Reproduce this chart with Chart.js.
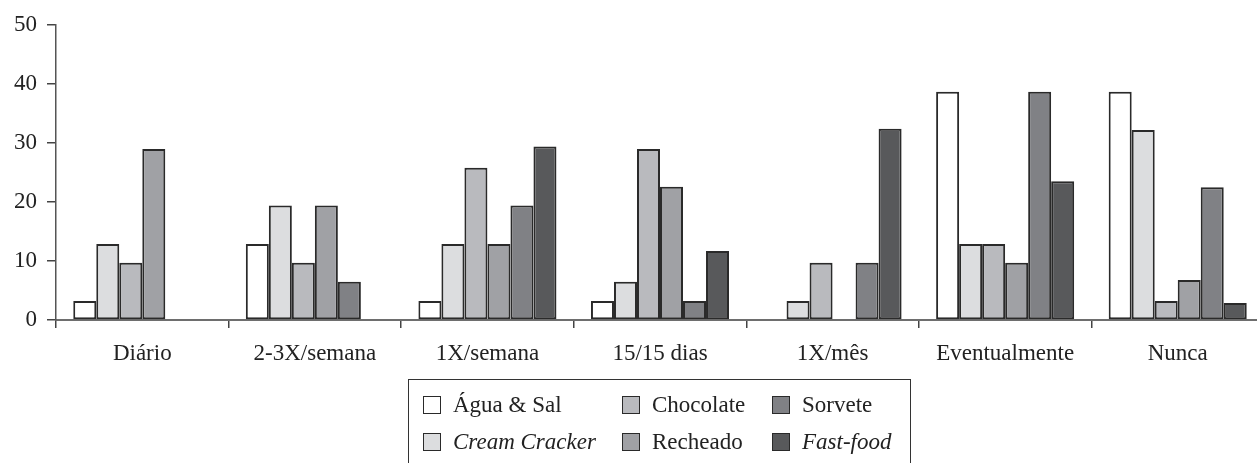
<!DOCTYPE html>
<html>
<head>
<meta charset="utf-8">
<script src="https://cdn.jsdelivr.net/npm/chart.js@4"></script>
<style>
  html, body { margin: 0; padding: 0; background: #fff; overflow: hidden; width: 1257px; height: 463px; }
  #wrap { position: absolute; left: 0; top: 0; width: 1265px; height: 463px; }
  #legend {
    position: absolute; left: 408px; top: 379px; width: 503px; height: 110px;
    border: 1.5px solid #333; box-sizing: border-box;
    font-family: "Liberation Serif", "Times New Roman", serif; font-size: 23px; color: #222;
  }
  .item { position: absolute; display: flex; align-items: center; height: 30px; white-space: nowrap; }
  .sw { width: 16px; height: 16px; border: 1.6px solid #2a2a2a; margin-right: 12px; box-sizing: content-box; }
</style>
</head>
<body>
<div id="wrap"><canvas id="c"></canvas></div>
<div id="legend"></div>
<script>
const categories = ["Diário", "2-3X/semana", "1X/semana", "15/15 dias", "1X/mês", "Eventualmente", "Nunca"];
const seriesNames = ["Água & Sal", "Cream Cracker", "Chocolate", "Recheado", "Sorvete", "Fast-food"];
const seriesItalic = [false, true, false, false, false, true];
const aguaSal      = [3.2, 12.9, 3.2, 3.2, 0, 38.7, 38.7];
const creamCracker = [12.9, 19.4, 12.9, 6.5, 3.2, 12.9, 32.2];
const chocolate    = [9.7, 9.7, 25.8, 29.0, 9.7, 12.9, 3.2];
const recheado     = [29.0, 19.4, 12.9, 22.6, 0, 9.7, 6.8];
const sorvete      = [0, 6.5, 19.4, 3.2, 9.7, 38.7, 22.5];
const fastFood     = [0, 0, 29.4, 11.7, 32.4, 23.5, 2.9];
const yTicks = [0, 10, 20, 30, 40, 50];

const seriesValues = [aguaSal, creamCracker, chocolate, recheado, sorvete, fastFood];
const colors = ["#ffffff", "#dcdddf", "#b9babe", "#a0a1a5", "#808185", "#58595b"];
const FONT = "'Liberation Serif', 'Times New Roman', serif";

const canvas = document.getElementById('c');
canvas.width = 1265; canvas.height = 463;

new Chart(canvas, {
  type: 'bar',
  data: {
    labels: categories,
    datasets: seriesNames.map((n, i) => ({
      label: n,
      data: seriesValues[i],
      backgroundColor: colors[i],
      borderColor: '#2a2a2a',
      borderWidth: 2,
      borderSkipped: false,
      barPercentage: 1.0,
      categoryPercentage: 0.8
    }))
  },
  options: {
    responsive: false,
    animation: false,
    devicePixelRatio: 1,
    layout: { padding: { top: 25, right: 1, bottom: 0, left: 0 } },
    plugins: { legend: { display: false }, tooltip: { enabled: false } },
    scales: {
      x: {
        afterFit: s => { s.height = 143; },
        grid: { offset: true, drawOnChartArea: false, drawTicks: true, tickLength: 8, color: '#444', lineWidth: 1.5 },
        border: { display: true, color: '#6e6e6e', width: 2 },
        ticks: { color: '#222', padding: 12, font: { family: FONT, size: 23 } }
      },
      y: {
        min: 0, max: 50,
        afterFit: s => { s.width = 56; },
        afterBuildTicks: s => { s.ticks = yTicks.map(v => ({ value: v })); },
        grid: { drawOnChartArea: false, drawTicks: true, tickLength: 9, color: '#444', lineWidth: 1.5 },
        border: { display: true, color: '#555', width: 1.5 },
        ticks: { color: '#222', padding: 10, font: { family: FONT, size: 23 } }
      }
    }
  }
});

// HTML legend built from the series arrays
const legend = document.getElementById('legend');
const colLeft = [14, 213, 363];
seriesNames.forEach((n, i) => {
  const col = Math.floor(i / 2), row = i % 2;
  const d = document.createElement('div');
  d.className = 'item';
  d.style.left = colLeft[col] + 'px';
  d.style.top = (10 + row * 37) + 'px';
  const sw = document.createElement('span');
  sw.className = 'sw';
  sw.style.background = colors[i];
  const t = document.createElement('span');
  t.textContent = n;
  if (seriesItalic[i]) t.style.fontStyle = 'italic';
  d.appendChild(sw); d.appendChild(t);
  legend.appendChild(d);
});
</script>
</body>
</html>
